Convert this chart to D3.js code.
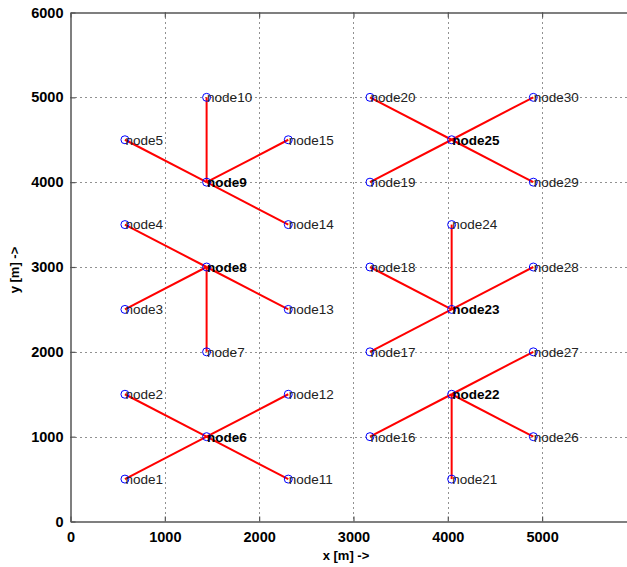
<!DOCTYPE html>
<html>
<head>
<meta charset="utf-8">
<script src="https://cdn.jsdelivr.net/npm/d3@7"></script>
<style>
html,body{margin:0;padding:0;background:#fff;}
svg{display:block;}
</style>
</head>
<body>
<svg id="chart" width="627" height="567"></svg>
<script>
// ---- data ----
const nodeNames = ["node1","node2","node3","node4","node5","node6","node7","node8","node9","node10",
  "node11","node12","node13","node14","node15","node16","node17","node18","node19","node20",
  "node21","node22","node23","node24","node25","node26","node27","node28","node29","node30"];
const nodeX = [577,577,577,577,577,1443,1443,1443,1443,1443,
  2309,2309,2309,2309,2309,3175,3175,3175,3175,3175,
  4041,4041,4041,4041,4041,4907,4907,4907,4907,4907];
const nodeY = [500,1500,2500,3500,4500,1000,2000,3000,4000,5000,
  500,1500,2500,3500,4500,1000,2000,3000,4000,5000,
  500,1500,2500,3500,4500,1000,2000,3000,4000,5000];
const clusterHeads = ["node6","node8","node9","node22","node23","node25"];
const linkFrom = ["node1","node2","node11","node12",
  "node3","node4","node7","node13",
  "node5","node10","node14","node15",
  "node16","node21","node26","node27",
  "node17","node18","node24","node28",
  "node19","node20","node29","node30"];
const linkTo = ["node6","node6","node6","node6",
  "node8","node8","node8","node8",
  "node9","node9","node9","node9",
  "node22","node22","node22","node22",
  "node23","node23","node23","node23",
  "node25","node25","node25","node25"];
const xTicks = [0,1000,2000,3000,4000,5000];
const yTicks = [0,1000,2000,3000,4000,5000,6000];
const xLabel = "x [m] ->";
const yLabel = "y [m] ->";

// ---- layout ----
const svg = d3.select("#chart");
const L = 70.5, R = 627, T = 12.5, B = 521.5;
const x = d3.scaleLinear().domain([0, 5900]).range([L, R]);
const y = d3.scaleLinear().domain([0, 6000]).range([B, T]);
const font = "'Liberation Sans', Arial, Helvetica, sans-serif";

// grid
const grid = svg.append("g");
grid.selectAll("line.gx").data(xTicks.filter(d => d > 0)).enter().append("line")
  .attr("x1", d => Math.round(x(d)) + 0.5).attr("x2", d => Math.round(x(d)) + 0.5)
  .attr("y1", T).attr("y2", B)
  .attr("stroke", "#222").attr("stroke-width", 1).attr("stroke-dasharray", "1,4");
grid.selectAll("line.gy").data(yTicks.filter(d => d > 0 && d < 6000)).enter().append("line")
  .attr("y1", d => Math.round(y(d)) + 0.5).attr("y2", d => Math.round(y(d)) + 0.5)
  .attr("x1", L).attr("x2", R)
  .attr("stroke", "#222").attr("stroke-width", 1).attr("stroke-dasharray", "1,4");

// axes
const axisColor = "#555";
const fmt = d3.format("d");
const xAxis = d3.axisBottom(x).tickValues(xTicks).tickFormat(fmt).tickSizeInner(-5).tickSizeOuter(0).tickPadding(10);
const gx = svg.append("g").attr("transform", `translate(0,${B})`).call(xAxis);
const yAxis = d3.axisLeft(y).tickValues(yTicks).tickFormat(fmt).tickSizeInner(-5).tickSizeOuter(0).tickPadding(7);
const gy = svg.append("g").attr("transform", `translate(${L},0)`).call(yAxis);
const xTop = d3.axisTop(x).tickValues(xTicks).tickSizeInner(-5).tickSizeOuter(0).tickFormat("");
const gt = svg.append("g").attr("transform", `translate(0,${T})`).call(xTop);
[gx, gy, gt].forEach(g => {
  g.select(".domain").attr("stroke", axisColor).attr("stroke-width", 1.5);
  g.selectAll(".tick line").attr("stroke", axisColor).attr("stroke-width", 1.2);
  g.selectAll(".tick text").attr("fill", "#000")
    .style("font-family", font).style("font-size", "14.5px").style("font-weight", "bold");
});

// axis labels
svg.append("text").attr("x", 346).attr("y", 560).attr("text-anchor", "middle")
  .style("font-family", font).style("font-size", "13px").style("font-weight", "bold")
  .text(xLabel);
svg.append("text").attr("transform", "translate(19,270) rotate(-90)").attr("text-anchor", "middle")
  .style("font-family", font).style("font-size", "13px").style("font-weight", "bold")
  .text(yLabel);

// links
const idx = name => nodeNames.indexOf(name);
svg.append("g").selectAll("line").data(linkFrom.map((f, i) => [idx(f), idx(linkTo[i])])).enter()
  .append("line")
  .attr("x1", d => x(nodeX[d[0]])).attr("y1", d => y(nodeY[d[0]]))
  .attr("x2", d => x(nodeX[d[1]])).attr("y2", d => y(nodeY[d[1]]))
  .attr("stroke", "#ff0000").attr("stroke-width", 2);

// nodes
svg.append("g").selectAll("circle").data(nodeNames).enter().append("circle")
  .attr("cx", (d, i) => x(nodeX[i])).attr("cy", (d, i) => y(nodeY[i]))
  .attr("r", 4).attr("fill", "none").attr("stroke", "#0000ff").attr("stroke-width", 1);

// labels
svg.append("g").selectAll("text").data(nodeNames).enter().append("text")
  .attr("x", (d, i) => x(nodeX[i]) + 0.5).attr("y", (d, i) => y(nodeY[i]))
  .attr("dy", "0.36em")
  .style("font-family", font).style("font-size", "13.5px")
  .style("font-weight", d => clusterHeads.includes(d) ? "bold" : "normal")
  .attr("fill", d => clusterHeads.includes(d) ? "#000" : "#222")
  .text(d => d);
</script>
</body>
</html>
